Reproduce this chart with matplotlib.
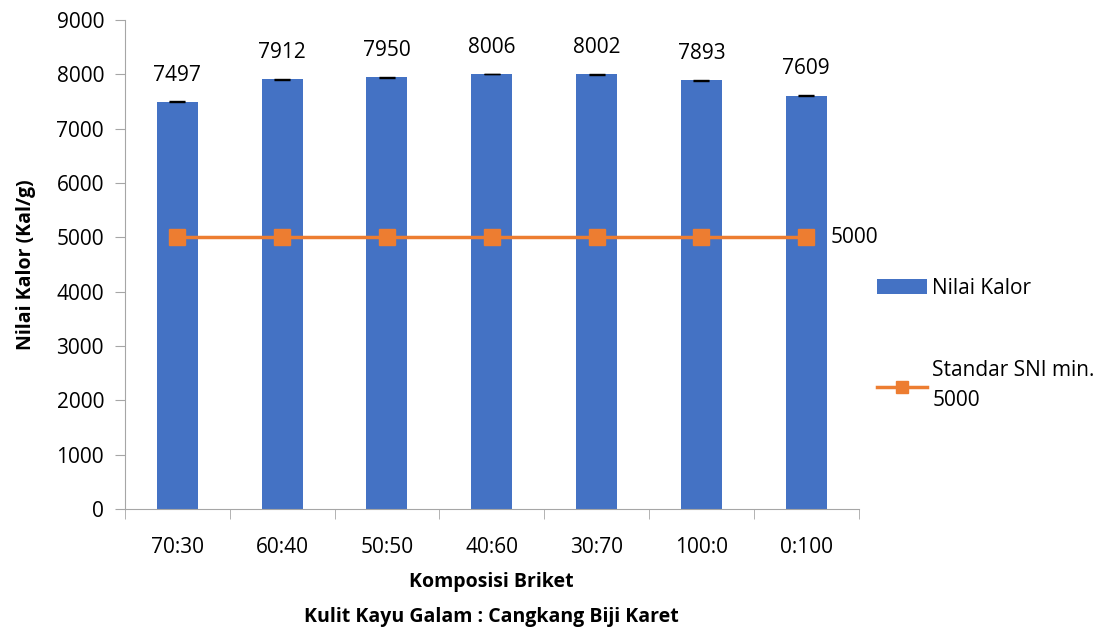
import matplotlib.pyplot as plt
import numpy as np

plt.rcParams['font.family'] = ['Open Sans', 'DejaVu Sans']

komposisi = ['70:30', '60:40', '50:50', '40:60', '30:70', '100:0', '0:100']
nilai_kalor = [7497, 7912, 7950, 8006, 8002, 7893, 7609]
galat = [6, 6, 6, 6, 6, 6, 6]
standar_sni = [5000, 5000, 5000, 5000, 5000, 5000, 5000]

biru = '#4472C4'
oranye = '#ED7D31'
abu = '#A6A6A6'

fig = plt.figure(figsize=(11.15, 6.3), dpi=100)
ax = fig.add_axes([0.112, 0.192, 0.658, 0.776])

x = np.arange(len(komposisi))
bars = ax.bar(x, nilai_kalor, width=0.39, color=biru, zorder=2, label='Nilai Kalor')
ax.errorbar(x, nilai_kalor, yerr=galat, fmt='none', ecolor='black', elinewidth=1,
            capsize=6, capthick=1, zorder=3)
for xi, v in zip(x, nilai_kalor):
    ax.text(xi, v + 300, str(v), ha='center', va='bottom', fontsize=15)

line, = ax.plot(x, standar_sni, color=oranye, linewidth=2.5, marker='s', markersize=12,
                zorder=4, label='Standar SNI min.\n5000')
ax.text(x[-1] + 0.23, standar_sni[-1], str(standar_sni[-1]), ha='left', va='center', fontsize=15)

ax.set_xlim(-0.5, len(komposisi) - 0.5)
ax.set_ylim(0, 9000)
ax.set_yticks(np.arange(0, 9001, 1000))
ax.set_xticks(x)
ax.set_xticklabels(komposisi)
ax.set_xticks(np.arange(-0.5, len(komposisi)), minor=True)
ax.tick_params(axis='x', which='major', length=0, pad=20, labelsize=15)
ax.tick_params(axis='x', which='minor', length=7, color=abu, direction='out')
ax.tick_params(axis='y', length=7, color=abu, labelsize=15, pad=8)

for s in ['top', 'right']:
    ax.spines[s].set_visible(False)
for s in ['left', 'bottom']:
    ax.spines[s].set_color(abu)

ax.set_ylabel('Nilai Kalor (Kal/g)', fontsize=14, fontweight='bold', labelpad=15)
ax.set_xlabel('Komposisi Briket\nKulit Kayu Galam : Cangkang Biji Karet', fontsize=14,
              fontweight='bold', labelpad=10, linespacing=2.0)

leg = fig.legend(handles=[bars, line], loc='upper left', bbox_to_anchor=(0.779, 0.572),
                 frameon=False, fontsize=15, handlelength=2.4, labelspacing=2.95,
                 handletextpad=0.25, borderaxespad=0, markerscale=0.75)
for t in leg.get_texts():
    t.set_linespacing(1.55)

fig.savefig('out.png', dpi=100)
